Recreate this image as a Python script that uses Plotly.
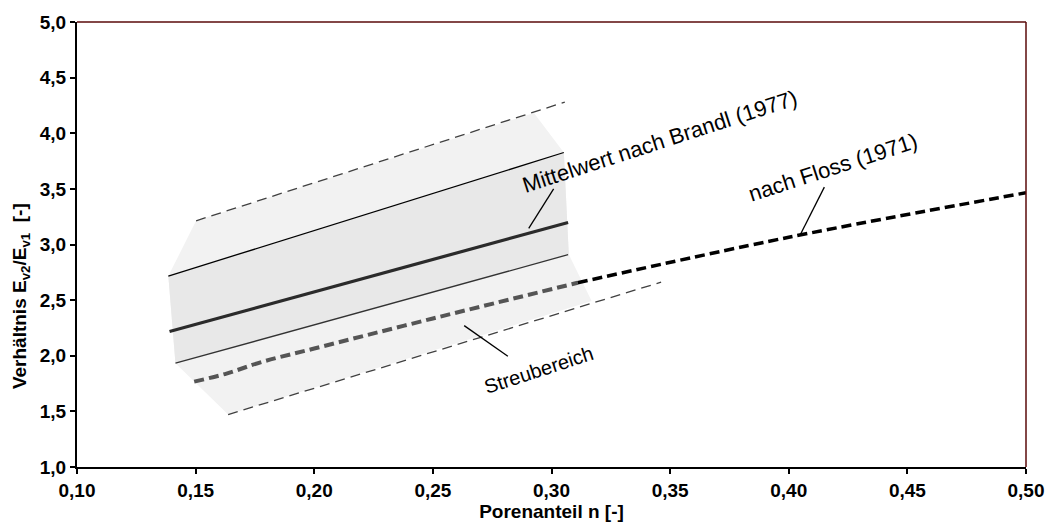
import plotly.graph_objects as go

# ---- data ----
band_outer_x = [0.1502, 0.2926, 0.3052, 0.3073, 0.3169, 0.1637, 0.1415, 0.1385]
band_outer_y = [3.213, 4.182, 3.827, 2.911, 2.493, 1.471, 1.933, 2.716]
band_inner_x = [0.1385, 0.3052, 0.3073, 0.1415]
band_inner_y = [2.716, 3.827, 2.908, 1.933]

upper_dash_x = [0.1502, 0.3056]
upper_dash_y = [3.213, 4.280]
lower_dash_x = [0.1637, 0.3462]
lower_dash_y = [1.471, 2.662]

upper_solid_x = [0.1385, 0.3052]
upper_solid_y = [2.716, 3.827]
mean_x = [0.139, 0.307]
mean_y = [2.218, 3.198]
lower_solid_x = [0.1415, 0.307]
lower_solid_y = [1.933, 2.908]

floss_gray_x = [0.1494, 0.163, 0.178, 0.20, 0.25, 0.311]
floss_gray_y = [1.767, 1.84, 1.945, 2.065, 2.335, 2.656]
floss_black_x = [0.311, 0.40, 0.50]
floss_black_y = [2.656, 3.065, 3.465]

x_ticks = [0.10, 0.15, 0.20, 0.25, 0.30, 0.35, 0.40, 0.45, 0.50]
y_ticks = [1.0, 1.5, 2.0, 2.5, 3.0, 3.5, 4.0, 4.5, 5.0]
x_ticklabels = ["0,10", "0,15", "0,20", "0,25", "0,30", "0,35", "0,40", "0,45", "0,50"]
y_ticklabels = ["1,0", "1,5", "2,0", "2,5", "3,0", "3,5", "4,0", "4,5", "5,0"]

labels = ["Mittelwert nach Brandl (1977)", "nach Floss (1971)", "Streubereich"]
label_size = [22, 22, 20]
label_x = [0.3455, 0.4185, 0.2945]
label_y = [3.93, 3.69, 1.875]
leader_x0 = [0.3009, 0.415, 0.2632]
leader_y0 = [3.50, 3.516, 2.271]
leader_x1 = [0.2904, 0.4048, 0.2816]
leader_y1 = [3.145, 3.085, 1.996]

FONT = "Liberation Sans, Arial, sans-serif"

fig = go.Figure()

fig.add_trace(go.Scatter(x=band_outer_x, y=band_outer_y, fill="toself", mode="none",
                         fillcolor="#f2f2f2", hoverinfo="skip", showlegend=False))
fig.add_trace(go.Scatter(x=band_inner_x, y=band_inner_y, fill="toself", mode="none",
                         fillcolor="#e8e8e8", hoverinfo="skip", showlegend=False))

def line(x, y, color, width, dash="solid", shape="linear"):
    fig.add_trace(go.Scatter(x=x, y=y, mode="lines", showlegend=False, hoverinfo="skip",
                             line=dict(color=color, width=width, dash=dash, shape=shape)))

line(upper_dash_x, upper_dash_y, "#404040", 1.3, "10px,6px")
line(lower_dash_x, lower_dash_y, "#404040", 1.3, "10px,6px")
line(upper_solid_x, upper_solid_y, "#000000", 1.3)
line(lower_solid_x, lower_solid_y, "#333333", 1.3)
line(mean_x, mean_y, "#2b2b2b", 3.2)
line(floss_gray_x, floss_gray_y, "#555555", 4, "10px,5px", "spline")
line(floss_black_x, floss_black_y, "#000000", 3.5, "10px,5px", "spline")

for i, t in enumerate(labels):
    fig.add_annotation(x=label_x[i], y=label_y[i], xref="x", yref="y", text=t,
                       showarrow=False, textangle=-18,
                       font=dict(family=FONT, size=label_size[i], color="#000000"))
    fig.add_shape(type="line", xref="x", yref="y",
                  x0=leader_x0[i], y0=leader_y0[i], x1=leader_x1[i], y1=leader_y1[i],
                  line=dict(color="#000000", width=1.3))

# y axis title (placed like the reference, slightly below centre)
fig.add_annotation(xref="paper", yref="paper", x=-0.0596, y=0.385, xanchor="center", yanchor="middle",
                   text="<b>Verhältnis E<sub>v2</sub>/E<sub>v1</sub>  [-]</b>", textangle=-90,
                   showarrow=False, font=dict(family=FONT, size=19, color="#000000"))

# top & right frame in dark red
fig.add_shape(type="line", xref="paper", yref="paper", x0=0, y0=1, x1=1, y1=1,
              line=dict(color="#5a0a0a", width=1.5))
fig.add_shape(type="line", xref="paper", yref="paper", x0=1, y0=0, x1=1, y1=1,
              line=dict(color="#5a0a0a", width=1.5))

fig.update_layout(
    width=1056, height=526,
    margin=dict(l=77, r=24, t=18, b=58),
    plot_bgcolor="#ffffff", paper_bgcolor="#ffffff",
    font=dict(family=FONT, color="#000000"),
    xaxis=dict(range=[0.10, 0.50], tickvals=x_ticks,
               ticktext=["<b>%s</b>" % s for s in x_ticklabels],
               showgrid=False, zeroline=False, showline=True, linecolor="#000000", linewidth=2,
               ticks="outside", ticklen=5, tickwidth=1.5, tickcolor="#000000",
               tickfont=dict(size=19, family=FONT, color="#000000"),
               title=dict(text="<b>Porenanteil n [-]</b>",
                          font=dict(size=19, family=FONT, color="#000000"), standoff=0)),
    yaxis=dict(range=[1.0, 5.0], tickvals=y_ticks,
               ticktext=["<b>%s</b>" % s for s in y_ticklabels],
               showgrid=False, zeroline=False, showline=True, linecolor="#000000", linewidth=2,
               ticks="outside", ticklen=5, tickwidth=1.5, tickcolor="#000000",
               tickfont=dict(size=19, family=FONT, color="#000000")),
)

fig.write_html("out.html")
